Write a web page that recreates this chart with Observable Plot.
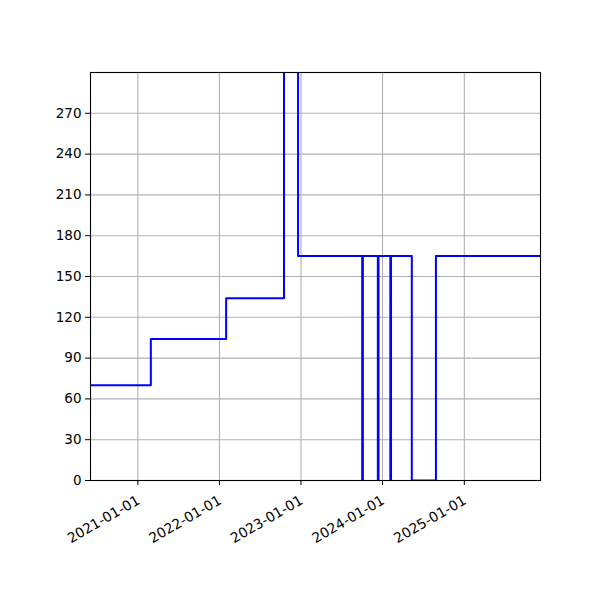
<!DOCTYPE html>
<html><head><meta charset="utf-8">
<script src="https://cdn.jsdelivr.net/npm/d3@7"></script>
<script src="https://cdn.jsdelivr.net/npm/@observablehq/plot@0.6"></script>
<style>body{margin:0;background:#fff}</style>
</head><body><div id="chart"></div>
<script>
// level start dates (step-after) and values
const stepDates = ["2020-06-03","2021-02-28","2022-01-31","2022-10-17","2022-12-19","2023-10-02","2023-10-05","2023-12-11","2023-12-14","2024-02-05","2024-02-08","2024-05-11","2024-08-27","2025-12-08"];
const stepValues = [70,104,134,400,165,0,165,0,165,0,165,0,165,165];
const yTicks = [0,30,60,90,120,150,180,210,240,270];
const xTickDates = ["2021-01-01","2022-01-01","2023-01-01","2024-01-01","2025-01-01"];
const xDomain = ["2020-06-03","2025-12-08"];
const yDomain = [0, 300];

const data = stepDates.map((d,i)=>({date:new Date(d), value:stepValues[i]}));
const xt = xTickDates.map(d=>new Date(d));
const fmt = d3.utcFormat("%Y-%m-%d");

const chart = Plot.plot({
  width: 600, height: 600,
  marginLeft: 90, marginRight: 60, marginTop: 72, marginBottom: 120,
  style: {fontFamily: "DejaVu Sans", fontSize: "13px", color: "black", background: "white"},
  x: {type: "utc", domain: xDomain.map(d=>new Date(d))},
  y: {domain: yDomain},
  marks: [
    Plot.gridX(xt, {stroke: "#b0b0b0", strokeOpacity: 1, strokeWidth: 1.1}),
    Plot.gridY(yTicks, {stroke: "#b0b0b0", strokeOpacity: 1, strokeWidth: 1.1}),
    Plot.line(data, {x: "date", y: "value", curve: "step-after", stroke: "#0000ff", strokeWidth: 2, clip: true}),
    Plot.frame({stroke: "black", strokeWidth: 1.1}),
    Plot.axisY(yTicks, {tickSize: 5, tickPadding: 4, label: null, fontSize: 13.5}),
    Plot.axisX(xt, {tickSize: 5, label: null, tickFormat: () => ""}),
    Plot.text(xt, {x: d => d, frameAnchor: "bottom", text: d => fmt(d), rotate: -30, textAnchor: "end", lineAnchor: "top", dx: -2, dy: 14, fontSize: 13.9, fill: "black"})
  ]
});
document.getElementById("chart").appendChild(chart);
</script>
</body></html>
